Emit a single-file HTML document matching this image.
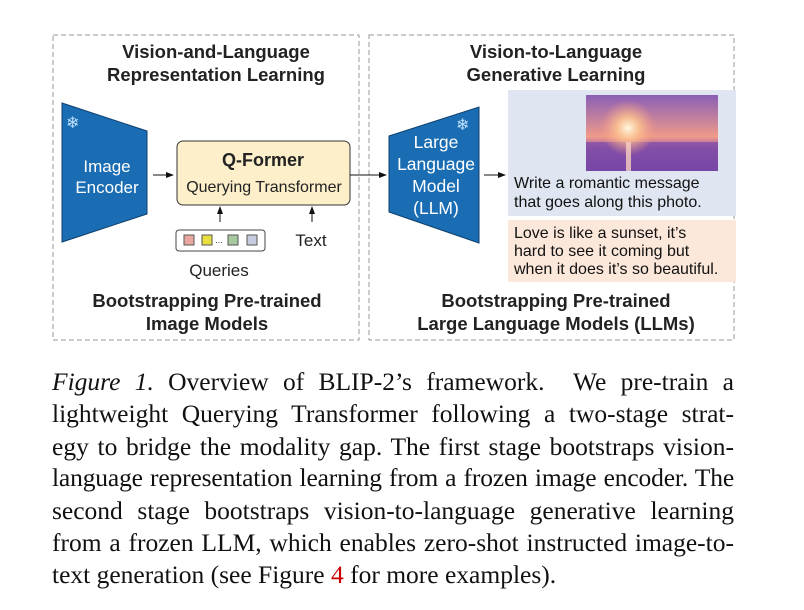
<!DOCTYPE html>
<html><head><style>
body{margin:0;width:804px;height:610px;background:#fff;overflow:hidden;position:relative;font-family:"Liberation Sans",sans-serif}
.cap{position:absolute;left:52px;width:682px;font-family:"Liberation Serif",serif;font-size:25.5px;color:#111;text-align:justify;text-align-last:justify;white-space:nowrap;line-height:26px}
</style></head><body>
<svg width="804" height="350" style="position:absolute;left:0;top:0" font-family="Liberation Sans, sans-serif">
<defs>
<marker id="a" markerWidth="8" markerHeight="8" refX="7" refY="4" orient="auto" markerUnits="userSpaceOnUse"><path d="M0,1 L8,4 L0,7 z" fill="#111"/></marker>
<linearGradient id="sky" x1="0" y1="0" x2="0" y2="1"><stop offset="0" stop-color="#8a5fb5"/><stop offset="0.55" stop-color="#f09a8a"/><stop offset="0.7" stop-color="#9a5aa8"/><stop offset="1" stop-color="#6a3f9a"/></linearGradient>
<radialGradient id="sun" cx="0.5" cy="0.5" r="0.5"><stop offset="0" stop-color="#fff8e0"/><stop offset="0.4" stop-color="#ffc890" stop-opacity="0.8"/><stop offset="1" stop-color="#ffa080" stop-opacity="0"/></radialGradient>
</defs>
<rect x="53" y="35" width="306" height="305" fill="none" stroke="#999" stroke-dasharray="5,3"/>
<rect x="369" y="35" width="365" height="305" fill="none" stroke="#999" stroke-dasharray="5,3"/>
<g font-weight="bold" font-size="18.5" fill="#222" text-anchor="middle">
<text x="216" y="58">Vision-and-Language</text>
<text x="216" y="81">Representation Learning</text>
<text x="556" y="58">Vision-to-Language</text>
<text x="556" y="81">Generative Learning</text>
<text x="207" y="307">Bootstrapping Pre-trained</text>
<text x="207" y="330">Image Models</text>
<text x="556" y="307">Bootstrapping Pre-trained</text>
<text x="556" y="330">Large Language Models (LLMs)</text>
</g>
<polygon points="62,103 147,131 147,214 62,242" fill="#1a6db3" stroke="#0d3f6e" stroke-width="1"/>
<text x="66" y="128" fill="#bfe0ff" font-size="16">❄</text>
<g fill="#fff" font-size="17" text-anchor="middle"><text x="107" y="172">Image</text><text x="107" y="193">Encoder</text></g>
<line x1="153" y1="175" x2="173" y2="175" stroke="#111" marker-end="url(#a)"/>
<rect x="177" y="141" width="173" height="64" rx="6" fill="#fcefca" stroke="#333"/>
<text x="263" y="166" text-anchor="middle" font-weight="bold" font-size="18" fill="#222">Q-Former</text>
<text x="264" y="192" text-anchor="middle" font-size="16" fill="#222">Querying Transformer</text>
<line x1="220" y1="222" x2="220" y2="207" stroke="#111" marker-end="url(#a)"/>
<line x1="312" y1="222" x2="312" y2="207" stroke="#111" marker-end="url(#a)"/>
<rect x="176" y="230" width="89" height="21" rx="3" fill="#fff" stroke="#444"/>
<rect x="184" y="235" width="10" height="10" fill="#e8a8a0" stroke="#555"/>
<rect x="202" y="235" width="10" height="10" fill="#e8e040" stroke="#555"/>
<text x="215" y="245" font-size="8">···</text>
<rect x="228" y="235" width="10" height="10" fill="#a8c8a0" stroke="#555"/>
<rect x="247" y="235" width="10" height="10" fill="#c8cce0" stroke="#555"/>
<text x="311" y="246" text-anchor="middle" font-size="17" fill="#222">Text</text>
<text x="219" y="276" text-anchor="middle" font-size="17" fill="#222">Queries</text>
<line x1="350" y1="175" x2="386" y2="175" stroke="#111" marker-end="url(#a)"/>
<polygon points="389,136 479,107 479,243 389,212" fill="#1a6db3" stroke="#0d3f6e"/>
<text x="456" y="130" fill="#bfe0ff" font-size="16">❄</text>
<g fill="#fff" font-size="17.5" text-anchor="middle"><text x="436" y="148">Large</text><text x="436" y="170">Language</text><text x="436" y="192">Model</text><text x="436" y="214">(LLM)</text></g>
<line x1="484" y1="175" x2="505" y2="175" stroke="#111" marker-end="url(#a)"/>
<rect x="508" y="90" width="228" height="126" fill="#dfe5f1"/>
<rect x="586" y="95" width="132" height="76" fill="url(#sky)"/>
<rect x="586" y="142" width="132" height="29" fill="#7a4aa8" opacity="0.7"/>
<circle cx="628" cy="128" r="28" fill="url(#sun)"/>
<rect x="626" y="142" width="5" height="29" fill="#f8d0c0" opacity="0.8"/>
<g font-size="16" fill="#111"><text x="514" y="188">Write a romantic message</text><text x="514" y="207">that goes along this photo.</text></g>
<rect x="508" y="220" width="228" height="62" fill="#fbe8da"/>
<g font-size="16" fill="#111"><text x="514" y="238">Love is like a sunset, it’s</text><text x="514" y="256">hard to see it coming but</text><text x="514" y="274">when it does it’s so beautiful.</text></g>
</svg>
<div class="cap" style="top:369px"><i>Figure 1.</i> Overview of BLIP-2’s framework. &nbsp;We pre-train a</div>
<div class="cap" style="top:401px">lightweight Querying Transformer following a two-stage strat-</div>
<div class="cap" style="top:434px">egy to bridge the modality gap. The first stage bootstraps vision-</div>
<div class="cap" style="top:465px;letter-spacing:-0.15px;word-spacing:-1px">language representation learning from a frozen image encoder. The</div>
<div class="cap" style="top:498px">second stage bootstraps vision-to-language generative learning</div>
<div class="cap" style="top:530px">from a frozen LLM, which enables zero-shot instructed image-to-</div>
<div class="cap" style="top:562px;text-align-last:left">text generation (see Figure <span style="color:#c00">4</span> for more examples).</div>
</body></html>
